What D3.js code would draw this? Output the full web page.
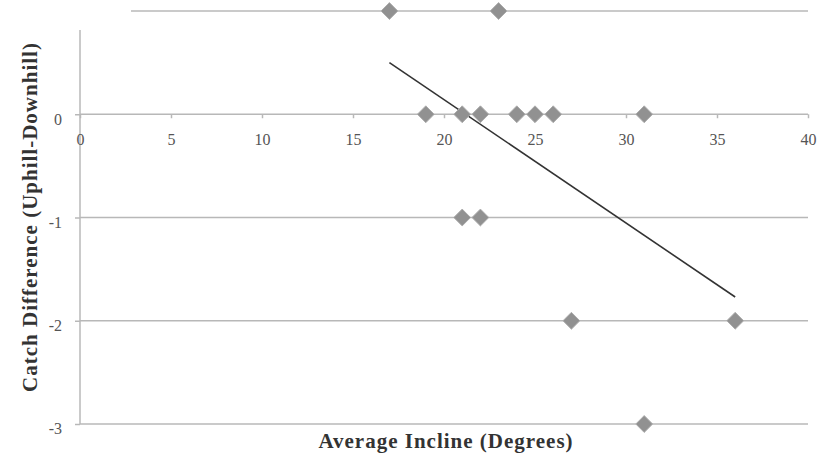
<!DOCTYPE html>
<html>
<head>
  <meta charset="utf-8">
  <script src="https://d3js.org/d3.v7.min.js"></script>
  <style>
    body { margin: 0; background: #fff; }
    svg { display: block; }
    text { font-family: "Liberation Serif", "Times New Roman", serif; }
  </style>
</head>
<body>
<script>
  // data
  var inclines = [17, 23, 19, 21, 22, 24, 25, 26, 31, 21, 22, 27, 36, 31];
  var catchDiff = [1, 1, 0, 0, 0, 0, 0, 0, 0, -1, -1, -2, -2, -3];
  var trendX = [17, 36];
  var trendY = [0.5, -1.77];
  var xTicks = [0, 5, 10, 15, 20, 25, 30, 35, 40];
  var yTicks = [0, -1, -2, -3];

  var width = 827, height = 461;

  var svg = d3.select("body").append("svg")
    .attr("width", width)
    .attr("height", height);

  var x = d3.scaleLinear().domain([0, 40]).range([80, 808]);
  var y = d3.scaleLinear().domain([-3, 1]).range([424, 11]);

  // gridlines (top one is cut short in the original)
  svg.append("g").selectAll("line")
    .data(yTicks.concat([1]))
    .enter().append("line")
      .attr("x1", function (d) { return d === 1 ? 131 : x(0); })
      .attr("x2", x(40))
      .attr("y1", function (d) { return y(d); })
      .attr("y2", function (d) { return y(d); })
      .style("stroke", "#b8b8b8")
      .style("stroke-width", 1.5);

  // y axis
  var yAxis = d3.axisLeft(y).tickValues(yTicks).tickSize(5).tickPadding(13)
    .tickFormat(function (d) { return String(d); });
  var gy = svg.append("g").attr("transform", "translate(" + x(0) + ",0)").call(yAxis);
  gy.select(".domain").remove();
  gy.append("line")
    .attr("x1", 0).attr("x2", 0)
    .attr("y1", 30).attr("y2", y(-3))
    .style("stroke", "#b8b8b8").style("stroke-width", 1.5);
  gy.selectAll(".tick line").style("stroke", "#b8b8b8").style("stroke-width", 1.5);
  gy.selectAll(".tick text")
    .attr("dy", "0.62em")
    .style("font-family", "Liberation Serif, serif")
    .style("font-size", "16px")
    .style("fill", "#555");

  // x axis crossing at y = 0
  var xAxis = d3.axisBottom(x).tickValues(xTicks).tickSize(4).tickPadding(15);
  var gx = svg.append("g").attr("transform", "translate(0," + y(0) + ")").call(xAxis);
  gx.select(".domain").remove();
  gx.selectAll(".tick line").style("stroke", "#b8b8b8").style("stroke-width", 1.5);
  gx.selectAll(".tick text")
    .style("font-family", "Liberation Serif, serif")
    .style("font-size", "16px")
    .style("fill", "#555");

  // trendline
  svg.append("line")
    .attr("x1", x(trendX[0])).attr("y1", y(trendY[0]))
    .attr("x2", x(trendX[1])).attr("y2", y(trendY[1]))
    .style("stroke", "#333")
    .style("stroke-width", 1.6);

  // diamonds
  var pts = inclines.map(function (d, i) { return [d, catchDiff[i]]; });
  svg.append("g").selectAll("path")
    .data(pts)
    .enter().append("path")
      .attr("d", d3.symbol().type(d3.symbolDiamond2).size(180))
      .attr("transform", function (d) { return "translate(" + x(d[0]) + "," + y(d[1]) + ")"; })
      .style("fill", "#919191")
      .style("stroke", "#adadad")
      .style("stroke-width", 1);

  // axis titles
  svg.append("text")
    .attr("x", 446).attr("y", 448)
    .attr("text-anchor", "middle")
    .style("font-size", "21px")
    .style("font-weight", "bold")
    .style("letter-spacing", "1px")
    .style("fill", "#333")
    .text("Average Incline (Degrees)");

  svg.append("text")
    .attr("transform", "translate(37,217) rotate(-90)")
    .attr("text-anchor", "middle")
    .style("font-size", "21px")
    .style("font-weight", "bold")
    .style("letter-spacing", "1px")
    .style("fill", "#333")
    .text("Catch Difference (Uphill-Downhill)");
</script>
</body>
</html>
